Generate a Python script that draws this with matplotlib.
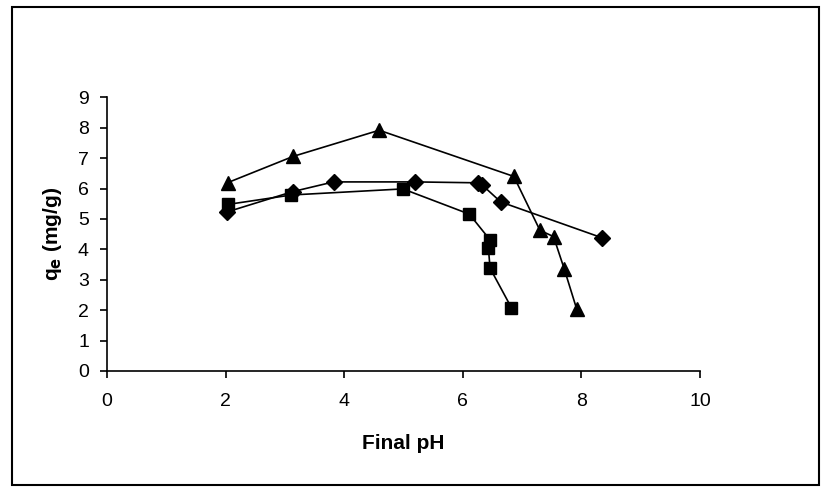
import matplotlib.pyplot as plt
from matplotlib.patches import Rectangle

plt.rcParams['font.family'] = ['Liberation Sans', 'DejaVu Sans']

# final pH / uptake for the three runs
ph_diamond = [2.02, 3.13, 3.82, 5.20, 6.26, 6.32, 6.64, 8.35]
qe_diamond = [5.23, 5.90, 6.22, 6.22, 6.19, 6.13, 5.56, 4.38]

ph_square = [2.04, 3.11, 4.99, 6.11, 6.46, 6.43, 6.46, 6.82]
qe_square = [5.48, 5.79, 5.99, 5.16, 4.31, 4.06, 3.38, 2.08]

ph_triangle = [2.04, 3.14, 4.59, 6.86, 7.30, 7.53, 7.71, 7.92]
qe_triangle = [6.20, 7.06, 7.92, 6.40, 4.63, 4.42, 3.36, 2.04]

xticks = [0, 2, 4, 6, 8, 10]
yticks = list(range(0, 10))

fig = plt.figure(figsize=(8.22, 4.87), dpi=100)
ax = fig.add_axes([0.1302, 0.2382, 0.7214, 0.5618])

style = dict(color='black', linewidth=1.2, markeredgecolor='black', markerfacecolor='black')
ax.plot(ph_square, qe_square, marker='s', markersize=8, **style)
ax.plot(ph_diamond, qe_diamond, marker='D', markersize=8, **style)
ax.plot(ph_triangle, qe_triangle, marker='^', markersize=10, **style)

ax.set_xlim(0, 10)
ax.set_ylim(0, 9)
ax.set_xticks(xticks)
ax.set_yticks(yticks)
ax.tick_params(direction='out', length=5, width=1.2, labelsize=14)
ax.tick_params(axis='x', pad=11)
ax.tick_params(axis='y', pad=8)

for side in ['top', 'right']:
    ax.spines[side].set_visible(False)
for side in ['left', 'bottom']:
    ax.spines[side].set_linewidth(1.2)

ax.set_xlabel('Final pH', fontsize=15, fontweight='bold', labelpad=17)
ax.set_ylabel(r'q$_\mathbf{e}$ (mg/g)', fontsize=15, fontweight='bold', labelpad=10)

# outer frame
fig.patches.append(Rectangle((12 / 822, 2 / 487), 807 / 822, 478 / 487,
                             transform=fig.transFigure, fill=False,
                             edgecolor='black', linewidth=1.5))

fig.savefig('out.png', dpi=100)
